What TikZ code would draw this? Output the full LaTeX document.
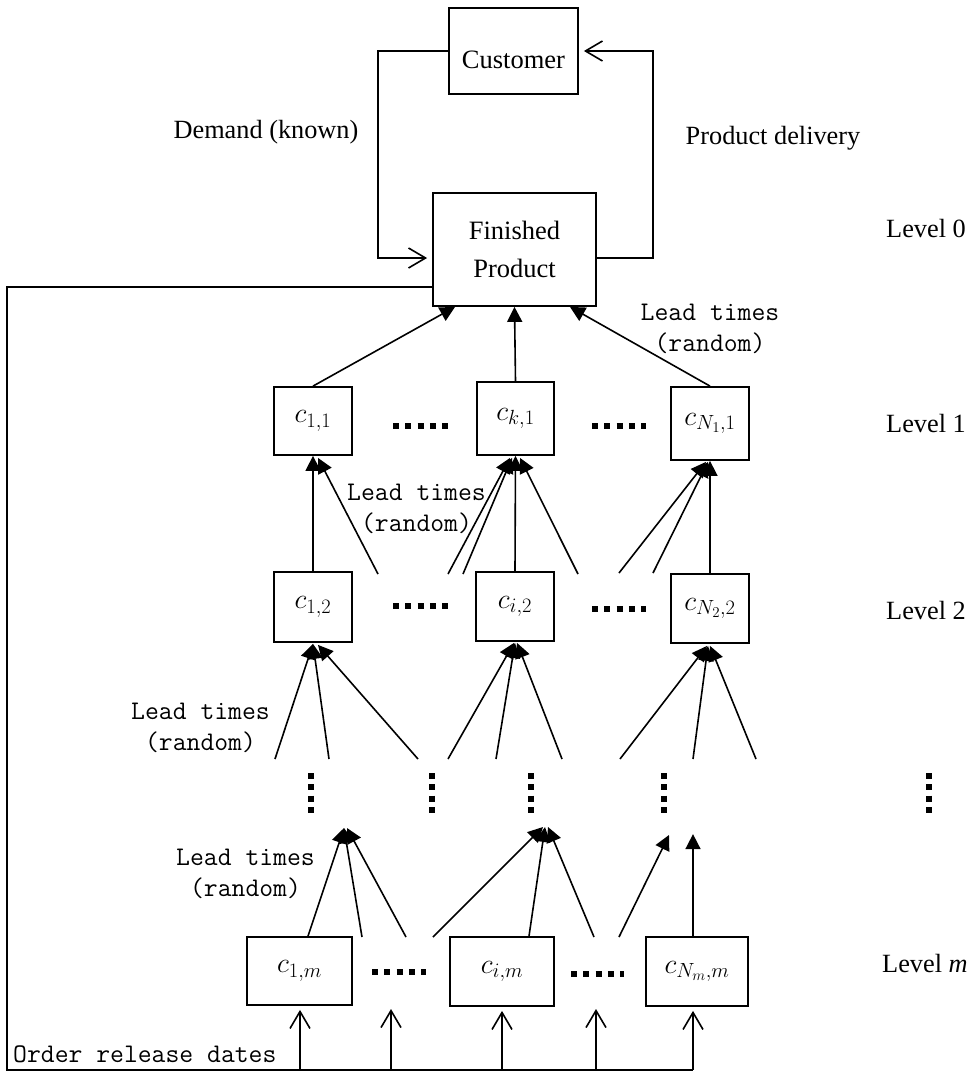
\RequirePackage{fix-cm}
\documentclass[tikz,border=0pt]{standalone}
\usepackage{fontspec}
\setmainfont{Liberation Serif}
\usetikzlibrary{arrows.meta,calc}
\DeclareMathSizes{28}{28}{20.5}{15}
\begin{document}
\begin{tikzpicture}[x=1pt,y=-1pt,
  box/.style={draw,line width=1.8pt,inner sep=0pt,align=center,font=\fontsize{26.5}{38}\selectfont},
  cbox/.style={draw,line width=1.8pt,inner sep=0pt,font=\fontsize{28}{33}\selectfont},
  conn/.style={line width=1.6pt},
  tri/.style={-{Triangle[length=15pt,width=15pt]}},
  barb/.style={-{Straight Barb[length=17pt,width=20pt]}},
  lbl/.style={inner sep=0pt,font=\fontsize{26.3}{31}\selectfont},
  lt/.style={inner sep=0pt,align=center,font=\ttfamily\fontsize{26.9}{30.5}\selectfont},
  hdots/.style={line width=6pt,dash pattern=on 6pt off 6.25pt},
  vdots/.style={line width=6pt,dash pattern=on 6pt off 5.33pt}]
\useasboundingbox (0,0) rectangle (971,1071);

% boxes
\node[box,minimum width=129pt,minimum height=86pt,text height=40pt,text depth=6pt] (cust) at (513.5,51) {Customer};
\node[box,minimum width=163pt,minimum height=113pt] (fin) at (514.5,249.5) {Finished\\Product};
\node[cbox,minimum width=78pt,minimum height=68pt] (c11) at (313,421) {$c_{1,1}$};
\node[cbox,minimum width=77pt,minimum height=73pt] (ck1) at (515.5,418.5) {$c_{k,1}$};
\node[cbox,minimum width=78pt,minimum height=73pt] (cN1) at (710,423.5) {$c_{N_1,1}$};
\node[cbox,minimum width=78pt,minimum height=70pt] (c12) at (313,607) {$c_{1,2}$};
\node[cbox,minimum width=78pt,minimum height=69pt] (ci2) at (515,606.5) {$c_{i,2}$};
\node[cbox,minimum width=78pt,minimum height=69pt] (cN2) at (710,608.5) {$c_{N_2,2}$};
\node[cbox,minimum width=105pt,minimum height=68pt] (c1m) at (299.5,971) {$c_{1,m}$};
\node[cbox,minimum width=104pt,minimum height=69pt] (cim) at (502,971.5) {$c_{i,m}$};
\node[cbox,minimum width=102pt,minimum height=69pt] (cNm) at (697,971.5) {$c_{N_m,m}$};

% labels
\node[lbl] (demand) at (266,132) {Demand (known)};
\node[lbl] (deliv) at (773,138) {Product delivery};
\node[lbl,anchor=west] (lv0) at (886,229) {Level 0};
\node[lbl,anchor=west] (lv1) at (886,423) {Level 1};
\node[lbl,anchor=west] (lv2) at (886,610) {Level 2};
\node[lbl,anchor=west] (lvm) at (882,963) {Level \textit{m}};
\node[lt] (lt0) at (710,329) {Lead times\\(random)};
\node[lt] (lt1) at (416.5,509) {Lead times\\(random)};
\node[lt] (lt2) at (200.5,728) {Lead times\\(random)};
\node[lt] (ltm) at (245.5,874) {Lead times\\(random)};
\node[lt,anchor=west] (ord) at (13,1054) {Order release dates};

% customer loop
\draw[conn,barb] (cust.west) -- (378,51) -- (378,258) -- ([shift={(-5,8.5)}]fin.west);
\draw[conn,barb] ([shift={(0,8.5)}]fin.east) -- (653,258) -- (653,51) -- ([shift={(5,0)}]cust.east);

% order release loop
\coordinate (bot) at (0,1070);
\coordinate (g1) at (391,1070);
\coordinate (g2) at (596,1070);
\draw[conn] ([shift={(0,37.5)}]fin.west) -- (7,287) -- (7,1070) -- ([xshift=-4pt]cNm.south |- bot);
\draw[conn,barb] ([xshift=0.5pt]c1m.south |- bot) -- ([shift={(0.5,4)}]c1m.south);
\draw[conn,barb] (cim.south |- bot) -- ([shift={(0,4)}]cim.south);
\draw[conn,barb] ([xshift=-4pt]cNm.south |- bot) -- ([shift={(-4,4)}]cNm.south);
\draw[conn,barb] (g1) -- (391,1009);
\draw[conn,barb] (g2) -- (596,1009);

% level 1 -> level 0
\draw[conn,tri] (c11.north) -- ([shift={(-59.5,0)}]fin.south);
\draw[conn,tri] (ck1.north) -- (fin.south);
\draw[conn,tri] (cN1.north) -- ([shift={(55.5,0)}]fin.south);

% level 2 -> level 1
\coordinate (a1) at (378,574);
\coordinate (a2) at (448,574);
\coordinate (a3) at (463,574);
\coordinate (a4) at (578,574);
\coordinate (a5) at (619,573);
\coordinate (a6) at (653,573);
\draw[conn,tri] (c12.north) -- (c11.south);
\draw[conn,tri] (a1) -- ([shift={(5,2)}]c11.south);
\draw[conn,tri] (a2) -- ([shift={(-5.5,2)}]ck1.south);
\draw[conn,tri] (a3) -- ([shift={(-3.5,2)}]ck1.south);
\draw[conn,tri] (ci2.north) -- (ck1.south);
\draw[conn,tri] (a4) -- ([shift={(4.5,2)}]ck1.south);
\draw[conn,tri] (a5) -- ([shift={(-4,1)}]cN1.south);
\draw[conn,tri] (a6) -- ([shift={(-2,1)}]cN1.south);
\draw[conn,tri] (cN2.north) -- (cN1.south);

% below level 2 -> level 2
\coordinate (b1) at (275,759);
\coordinate (b2) at (329,759);
\coordinate (b3) at (418,759);
\coordinate (b4) at (448,759);
\coordinate (b5) at (496,759);
\coordinate (b6) at (562,759);
\coordinate (b7) at (620,759);
\coordinate (b8) at (693,759);
\coordinate (b9) at (756,759);
\draw[conn,tri] (b1) -- ([shift={(0,1)}]c12.south);
\draw[conn,tri] (b2) -- ([shift={(0,1)}]c12.south);
\draw[conn,tri] (b3) -- ([shift={(5,2)}]c12.south);
\draw[conn,tri] (b4) -- ([shift={(-1,1)}]ci2.south);
\draw[conn,tri] (b5) -- ([shift={(0,1)}]ci2.south);
\draw[conn,tri] (b6) -- ([shift={(2,1)}]ci2.south);
\draw[conn,tri] (b7) -- ([shift={(-3,2)}]cN2.south);
\draw[conn,tri] (b8) -- ([shift={(-2,2)}]cN2.south);
\draw[conn,tri] (b9) -- ([shift={(0,2)}]cN2.south);

% level m -> above
\coordinate (t1) at (344,828);
\coordinate (t2) at (545,827);
\coordinate (t3) at (669,835);
\coordinate (m1) at (362,937);
\coordinate (m2) at (406,937);
\coordinate (m3) at (433,937);
\coordinate (m4) at (594,937);
\coordinate (m5) at (619,937);
\draw[conn,tri] ([shift={(8.5,0)}]c1m.north) -- (t1);
\draw[conn,tri] (m1) -- (t1);
\draw[conn,tri] (m2) -- ([shift={(3,0)}]t1);
\draw[conn,tri] (m3) -- ([shift={(-2,0)}]t2);
\draw[conn,tri] ([shift={(27,0)}]cim.north) -- (t2);
\draw[conn,tri] (m4) -- ([shift={(3,0)}]t2);
\draw[conn,tri] (m5) -- (t3);
\draw[conn,tri] ([shift={(-4,0)}]cNm.north) -- ([shift={(-4,-102)}]cNm.north);

% horizontal dot groups
\draw[hdots] (393,426) -- (448,426);
\draw[hdots] (592,426) -- (646,426);
\draw[hdots] (393,606) -- (448,606);
\draw[hdots] (592,609) -- (646,609);
\draw[hdots] (372,972) -- (426,972);
\draw[hdots] (571,974) -- (624,974);

% vertical dot groups
\foreach \x in {311,432,531,664,929}
  \draw[vdots] (\x,773) -- (\x,813);
\end{tikzpicture}
\end{document}
